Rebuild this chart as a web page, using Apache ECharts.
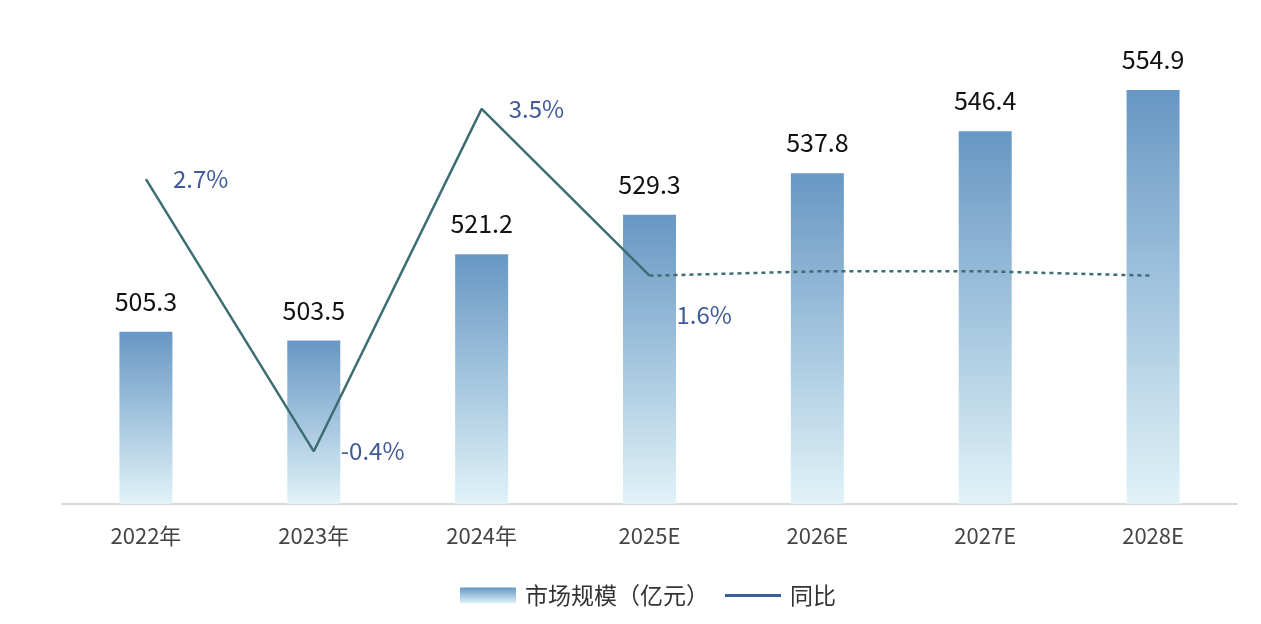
<!DOCTYPE html>
<html>
<head>
<meta charset="utf-8">
<script src="https://cdn.jsdelivr.net/npm/echarts@6/dist/echarts.min.js"></script>
<style>
  html, body { margin: 0; padding: 0; background: #fff; }
  #chart { width: 1261px; height: 624px; }
</style>
</head>
<body>
<div id="chart"></div>
<script>
// data
const categories = ['2022年', '2023年', '2024年', '2025E', '2026E', '2027E', '2028E']
const marketSize = [505.3, 503.5, 521.2, 529.3, 537.8, 546.4, 554.9]
// yoy growth (%), solid for actual part, dotted for the forecast part
const yoyActual = [2.7, -0.4, 3.5, 1.6, null, null, null]
const yoyForecast = [null, null, null, 1.6, 1.65, 1.65, 1.6]

const font = '"Noto Sans CJK SC", "Noto Sans", sans-serif'
const chart = echarts.init(document.getElementById('chart'))

chart.setOption({
  animation: false,
  textStyle: { fontFamily: font },
  grid: { left: 62, right: 24, top: 65, bottom: 120, containLabel: false },
  legend: {
    bottom: 12,
    left: 455,
    itemGap: 16,
    itemWidth: 56,
    itemHeight: 16,
    textStyle: { fontSize: 23, color: '#333', fontFamily: font, padding: [0, 0, 0, 4] },
    data: [
      { name: '市场规模（亿元）', icon: 'rect' },
      {
        name: '同比',
        icon: 'path://M0,0L56,0L56,3L0,3Z',
        itemStyle: { color: '#3b5f9d' }
      }
    ]
  },
  xAxis: {
    type: 'category',
    data: categories,
    axisLine: { onZero: false, lineStyle: { color: '#d9d9d9', width: 2 } },
    axisTick: { show: false },
    axisLabel: { fontSize: 22, color: '#444', margin: 21, fontFamily: font }
  },
  yAxis: [
    { type: 'value', min: 470, max: 560, show: false, splitLine: { show: false } },
    { type: 'value', min: -1, max: 4, show: false, splitLine: { show: false } }
  ],
  series: [
    {
      name: '市场规模（亿元）',
      type: 'bar',
      barWidth: 53,
      data: marketSize,
      itemStyle: {
        color: new echarts.graphic.LinearGradient(0, 0, 0, 1, [
          { offset: 0, color: '#6797c4' },
          { offset: 1, color: '#e1f3f8' }
        ])
      },
      label: {
        show: true,
        position: 'top',
        distance: 18,
        fontSize: 25,
        color: '#111',
        fontFamily: font
      },
      z: 1
    },
    {
      name: '同比',
      type: 'line',
      yAxisIndex: 1,
      data: yoyActual,
      symbol: 'circle',
      symbolSize: 0,
      showSymbol: true,
      color: '#3b5f9d',
      lineStyle: { color: '#3d6e74', width: 2.5 },
      label: {
        show: true,
        position: 'right',
        distance: 27,
        fontSize: 24,
        color: '#3f5a9a',
        fontFamily: font,
        formatter: p => p.value + '%'
      },
      labelLayout: p => (p.dataIndex === 3 ? { dy: 39 } : {}),
      z: 3
    },
    {
      name: '同比预测',
      type: 'line',
      yAxisIndex: 1,
      data: yoyForecast,
      symbol: 'none',
      lineStyle: { color: '#3d6e74', width: 2.5, type: [4, 4] },
      z: 3
    }
  ]
})
</script>
</body>
</html>
